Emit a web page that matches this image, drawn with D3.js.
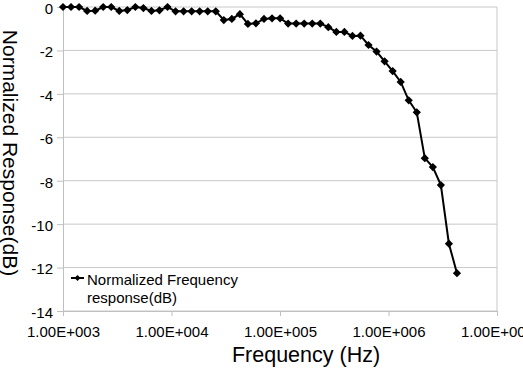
<!DOCTYPE html>
<html>
<head>
<meta charset="utf-8">
<script src="https://cdn.jsdelivr.net/npm/d3@7"></script>
<style>
	body { margin: 0; background: #fff; }
	svg { font-family: "Liberation Sans", Arial, sans-serif; display: block; }
	.grid line { stroke: #c8c8c8; }
</style>
</head>
<body>
<div id="chart"></div>
<script>
// frequencies (Hz) and normalized response (dB)
var freqs = [1000, 1186, 1407, 1669, 1979, 2347, 2784, 3302, 3916, 4645,
	5508, 6533, 7748, 9190, 10900, 12930, 15330, 18180, 21570, 25580,
	30340, 35980, 42680, 50620, 60030, 71200, 84450, 100200, 118800, 140900,
	167100, 198200, 235100, 278800, 330700, 392200, 465200, 551700, 654400, 776100,
	920500, 1092000, 1295000, 1536000, 1822000, 2160000, 2562000, 3039000, 3604000, 4275000];
var response = [0, 0, 0, -0.18, -0.17, 0, 0, -0.18, -0.14, 0,
	-0.05, -0.18, -0.15, 0, -0.2, -0.2, -0.2, -0.2, -0.2, -0.2,
	-0.6, -0.55, -0.33, -0.78, -0.75, -0.55, -0.52, -0.52, -0.76, -0.76,
	-0.76, -0.76, -0.76, -0.93, -1.15, -1.15, -1.33, -1.32, -1.75, -2.05,
	-2.5, -2.95, -3.45, -4.3, -4.85, -6.96, -7.37, -8.2, -10.9, -12.26];
var xTicks = [1e3, 1e4, 1e5, 1e6, 1e7];
var xTickLabels = ["1.00E+003", "1.00E+004", "1.00E+005", "1.00E+006", "1.00E+007"];
var yTicks = [0, -2, -4, -6, -8, -10, -12, -14];
var seriesName = ["Normalized Frequency", "response(dB)"];

const W = 523, H = 377,
	LEFT = 63, RIGHT = 497, TOP = 7, BOTTOM = 311;

var svg = d3.select("#chart").append("svg")
	.attr("width", W)
	.attr("height", H);

var x = d3.scaleLog().domain([1e3, 1e7]).range([LEFT, RIGHT]);
var y = d3.scaleLinear().domain([-14, 0]).range([BOTTOM, TOP]);

// horizontal grid
svg.append("g")
	.attr("class", "grid")
	.selectAll("line")
	.data(yTicks)
	.enter().append("line")
	.attr("x1", LEFT).attr("x2", RIGHT)
	.attr("y1", d => y(d)).attr("y2", d => y(d));

// right border
svg.append("line")
	.attr("x1", RIGHT).attr("x2", RIGHT)
	.attr("y1", TOP).attr("y2", BOTTOM)
	.attr("stroke", "#c8c8c8");

var xAxis = d3.axisBottom(x)
	.tickValues(xTicks)
	.tickSize(5)
	.tickPadding(10)
	.tickFormat((d, i) => xTickLabels[i]);
var yAxis = d3.axisLeft(y)
	.tickValues(yTicks)
	.tickSize(6)
	.tickPadding(4)
	.tickFormat(d => d);

var gx = svg.append("g")
	.attr("transform", "translate(0," + BOTTOM + ")")
	.call(xAxis);
var gy = svg.append("g")
	.attr("transform", "translate(" + LEFT + ",0)")
	.call(yAxis);

[gx, gy].forEach(g => {
	g.select(".domain").attr("stroke", "#c0c0c0");
	g.selectAll(".tick line").attr("stroke", "#c0c0c0");
	g.selectAll(".tick text")
		.attr("fill", "#000")
		.style("font-size", "15px")
		.style("font-family", "'Liberation Sans', Arial, sans-serif");
});
gy.selectAll(".tick text").attr("dy", "0.42em");

// series line + markers
var line = d3.line()
	.x((d, i) => x(freqs[i]))
	.y(d => y(d));

svg.append("path")
	.datum(response)
	.attr("fill", "none")
	.attr("stroke", "#000")
	.attr("stroke-width", 2)
	.attr("d", line);

var marker = d3.symbol().type(d3.symbolSquare).size(34);
svg.selectAll(".pt")
	.data(response)
	.enter().append("path")
	.attr("class", "pt")
	.attr("d", marker)
	.attr("fill", "#000")
	.attr("transform", (d, i) => "translate(" + x(freqs[i]) + "," + y(d) + ") rotate(45)");

// legend
var lg = svg.append("g").attr("transform", "translate(71,278)");
lg.append("line")
	.attr("x1", 0).attr("x2", 13)
	.attr("stroke", "#000").attr("stroke-width", 2);
lg.append("path")
	.attr("d", d3.symbol().type(d3.symbolSquare).size(18))
	.attr("transform", "translate(6.5,0) rotate(45)");
lg.selectAll("text")
	.data(seriesName)
	.enter().append("text")
	.attr("x", 16)
	.attr("y", (d, i) => 7 + i * 18)
	.style("font-size", "15px")
	.text(d => d);

// axis titles
svg.append("text")
	.attr("x", 306)
	.attr("y", 362)
	.attr("text-anchor", "middle")
	.style("font-size", "21.5px")
	.text("Frequency (Hz)");

svg.append("text")
	.attr("transform", "translate(3,153) rotate(90)")
	.attr("text-anchor", "middle")
	.style("font-size", "21px")
	.text("Normalized Response(dB)");
</script>
</body>
</html>
